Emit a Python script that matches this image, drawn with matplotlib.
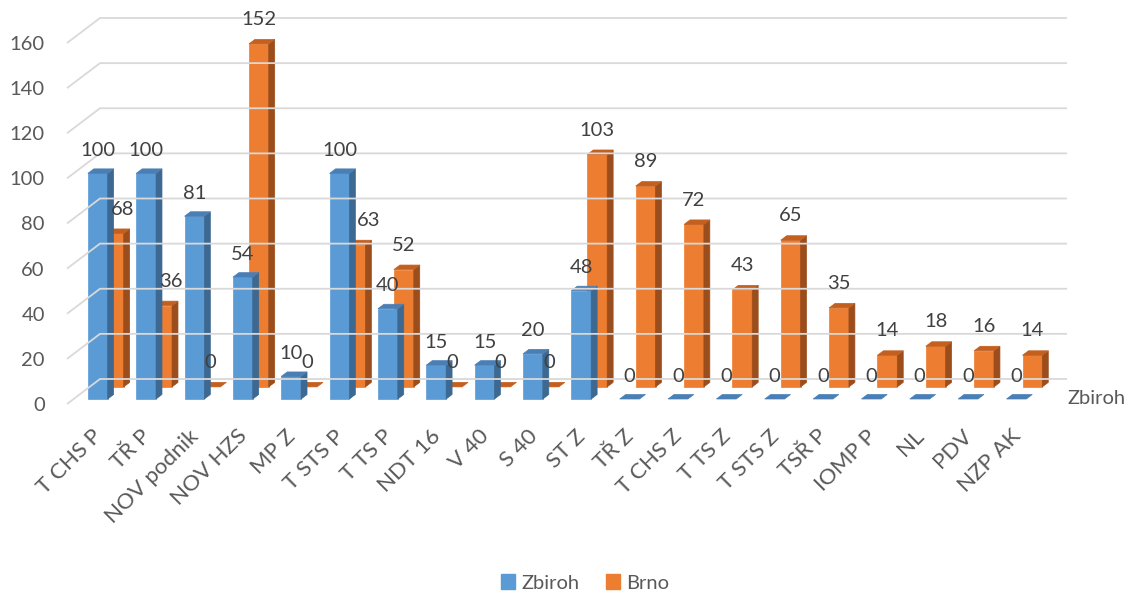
import matplotlib
matplotlib.use("Agg")
import matplotlib.pyplot as plt
import matplotlib.transforms as mtransforms
from matplotlib.patches import Polygon, Patch

"""Excel style 3D column chart (two rows in depth) drawn with flat polygons"""

categories = ["T CHS P", "TŘ P", "NOV podnik", "NOV HZS", "MP Z", "T STS P", "T TS P",
              "NDT 16", "V 40", "S 40", "ST Z", "TŘ Z", "T CHS Z", "T TS Z", "T STS Z",
              "TSŘ P", "IOMP P", "NL", "PDV", "NZP AK"]
zbiroh = [100, 100, 81, 54, 10, 100, 40, 15, 15, 20, 48, 0, 0, 0, 0, 0, 0, 0, 0, 0]
brno = [68, 36, 0, 152, 0, 63, 52, 0, 0, 0, 103, 89, 72, 43, 65, 35, 14, 18, 16, 14]
yticks = list(range(0, 161, 20))

plt.rcParams['font.family'] = ['Lato', 'DejaVu Sans']

W, H = 1133, 595
fig = plt.figure(figsize=(W / 100, H / 100), dpi=100)
# front plane of the floor: x -0.5..19.5 -> 67..1034 px, value 0..160 -> 404..43 px
ax = fig.add_axes([67 / W, (H - 404) / H, 967 / W, 361 / H])
ax.set_xlim(-0.5, 19.5)
ax.set_ylim(0, 160)

px_x = 967 / 20.0   # pixels per category
px_y = 361 / 160.0  # pixels per value unit
DX = 33 / px_x      # full depth shift in data units
DY = 25 / px_y

grid_col = "#d9d9d9"
text_col = "#595959"
lab_col = "#404040"


def P(x, v, d):
    """point in the pseudo 3D space -> data coordinates"""
    return (x + d * DX, v + d * DY)


def bar3d(i, v, d0, d1, cols, w=0.41):
    x0, x1 = i - w / 2, i + w / 2
    front, side, top = cols
    if v > 0:
        ax.add_patch(Polygon([P(x0, 0, d0), P(x1, 0, d0), P(x1, v, d0), P(x0, v, d0)],
                             closed=True, fc=front, ec=front, lw=0.5, clip_on=False))
        ax.add_patch(Polygon([P(x1, 0, d0), P(x1, 0, d1), P(x1, v, d1), P(x1, v, d0)],
                             closed=True, fc=side, ec=side, lw=0.5, clip_on=False))
    ax.add_patch(Polygon([P(x0, v, d0), P(x1, v, d0), P(x1, v, d1), P(x0, v, d1)],
                         closed=True, fc=top, ec=top, lw=0.5, clip_on=False))


# walls: back gridlines and left diagonals
for v in yticks:
    xs, ys = zip(P(-0.5, v, 0), P(-0.5, v, 1), P(19.5, v, 1))
    ax.plot(xs, ys, color=grid_col, lw=1.3, clip_on=False, solid_capstyle='butt')

blue_cols = ("#5b9bd5", "#3c6891", "#4a7fb5")
orange_cols = ("#ed7d31", "#9c4d1c", "#c35f1f")
d_blue = (0.2, 0.38)
d_orange = (0.685, 0.865)

# back row first (Brno), then front row (Zbiroh)
for i, v in enumerate(brno):
    bar3d(i, v, d_orange[0], d_orange[1], orange_cols)
for i, v in enumerate(zbiroh):
    bar3d(i, v, d_blue[0], d_blue[1], blue_cols)

# data labels (a few Brno labels sit a bit to the right, like in the original)
nudge_brno = {0: 9, 1: 9, 5: 13}
for i, v in enumerate(zbiroh):
    ax.annotate(str(v), xy=P(i, v, d_blue[0]), xytext=(0, 16.5), textcoords='offset points',
                ha='center', va='center', fontsize=14.5, color=lab_col, annotation_clip=False)
for i, v in enumerate(brno):
    ax.annotate(str(v), xy=P(i, v, d_orange[0]), xytext=(nudge_brno.get(i, 0) * 0.72, 17.5),
                textcoords='offset points', ha='center', va='center', fontsize=14.5,
                color=lab_col, annotation_clip=False)

# value axis
ax.set_yticks(yticks)
ax.set_yticklabels([str(t) for t in yticks], fontsize=14.5, color=text_col)
ax.tick_params(axis='y', length=0, pad=16)

# category axis
ax.set_xticks(range(len(categories)))
ax.set_xticklabels(categories, rotation=45, ha='right', va='baseline', rotation_mode='anchor',
                   fontsize=16, color=text_col)
ax.tick_params(axis='x', length=0, pad=24)
shift = mtransforms.ScaledTranslation(0.12, 0, fig.dpi_scale_trans)
for lab in ax.get_xticklabels():
    lab.set_transform(lab.get_transform() + shift)

# depth axis label
ax.annotate("Zbiroh", xy=P(19.5, 0, 0.29), xytext=(17, -1), textcoords='offset points',
            ha='left', va='center', fontsize=14.5, color=text_col, annotation_clip=False)

for s in ax.spines.values():
    s.set_visible(False)
ax.set_facecolor('none')

handles = [Patch(color=blue_cols[0], label="Zbiroh"), Patch(color=orange_cols[0], label="Brno")]
fig.legend(handles=handles, loc='center', bbox_to_anchor=(585 / W, 1 - 583 / H), ncol=2,
           frameon=False, fontsize=14.5, labelcolor=text_col, handlelength=0.7,
           handleheight=0.7, handletextpad=0.3, columnspacing=1.3, borderpad=0.2)

fig.savefig("out.png", dpi=100)
